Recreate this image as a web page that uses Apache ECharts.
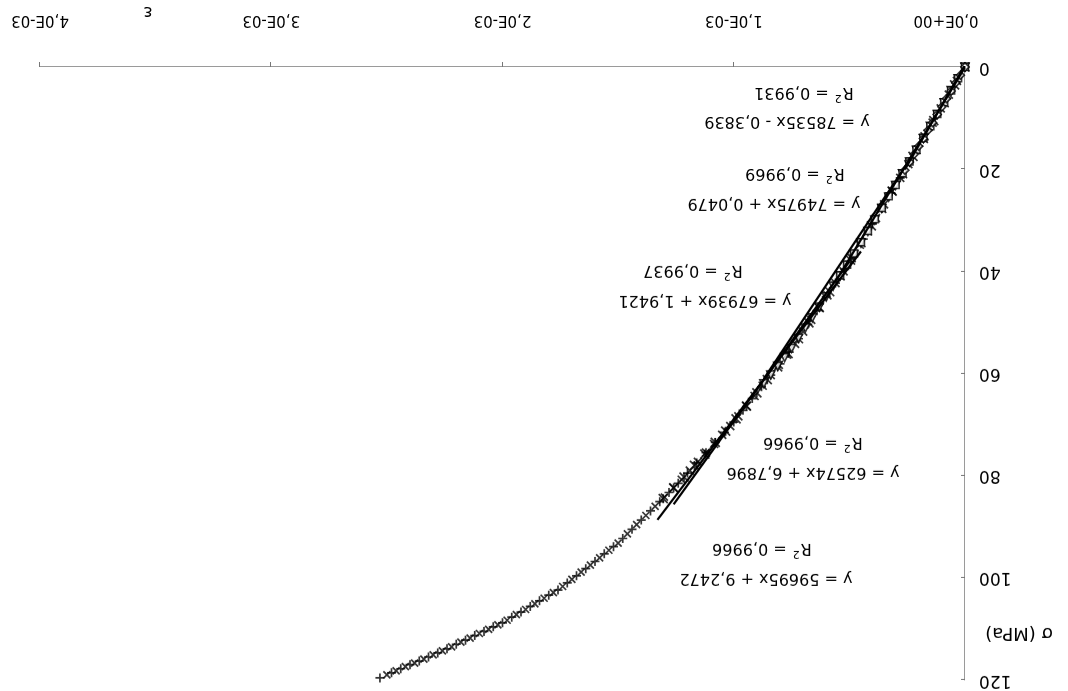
<!DOCTYPE html>
<html>
<head>
<meta charset="utf-8">
<script src="https://cdn.jsdelivr.net/npm/echarts@6/dist/echarts.min.js"></script>
<style>
  html, body { margin: 0; padding: 0; background: #fff; }
  /* the figure is presented turned through half a revolution */
  #chart { width: 1068px; height: 691px; transform: rotate(180deg); transform-origin: 50% 50%; }
</style>
</head>
<body>
<div id="chart"></div>
<script>
// Axis tick labels
const xTickLabels = ['0,0E+00', '1,0E-03', '2,0E-03', '3,0E-03', '4,0E-03'];
const yTickLabels = ['0', '20', '40', '60', '80', '100', '120'];

// Loading stages: strain in microstrain, stress in MPa
const strainS1 = [0, 20, 40, 60, 80, 100, 120, 140, 160, 180, 200, 220, 240, 260];
const stressS1 = [0, 1.6, 3.1, 4.7, 6.2, 7.8, 9.3, 10.9, 12.4, 14.0, 15.5, 17.1, 18.6, 20.2];

const strainS2 = [0, 30, 60, 90, 120, 150, 180, 210, 240, 270, 300, 330, 360, 390, 420, 450, 480, 510, 540];
const stressS2 = [0, 2.2, 4.6, 6.9, 9.2, 11.6, 13.9, 16.2, 18.5, 20.8, 23.1, 25.3, 27.6, 29.8, 32.1, 34.3, 36.5, 38.7, 40.8];

const strainS3 = [0, 30, 60, 90, 120, 150, 180, 210, 240, 270, 300, 330, 360, 390, 420, 450, 480, 510, 540, 570,
                  600, 630, 660, 690, 720, 750, 780, 810, 840, 870];
const stressS3 = [0, 2.3, 4.6, 7.0, 9.3, 11.6, 14.0, 16.3, 18.6, 20.9, 23.2, 25.5, 27.7, 30.0, 32.2, 34.5, 36.7, 38.8, 40.9, 42.9,
                  45.0, 47.0, 49.1, 51.1, 53.1, 55.1, 56.9, 58.6, 60.3, 62.0];

const strainS4 = [0, 35, 70, 105, 140, 175, 210, 245, 280, 315, 350, 385, 420, 455, 490, 525, 560, 595, 630, 665,
                  700, 735, 770, 805, 840, 875, 910, 945, 980, 1015, 1050, 1085, 1120, 1155, 1190, 1225, 1260];
const stressS4 = [0, 2.7, 5.4, 8.1, 10.9, 13.6, 16.3, 19.0, 21.7, 24.3, 26.9, 29.6, 32.2, 34.8, 37.4, 40.0, 42.3, 44.7, 47.1, 49.5,
                  51.8, 54.2, 56.3, 58.3, 60.3, 62.4, 64.4, 66.4, 68.4, 70.3, 72.0, 73.8, 75.5, 77.3, 79.0, 80.8, 82.4];

const strainS5 = [0, 45, 90, 135, 180, 225, 270, 315, 360, 405, 450, 495, 540, 585, 630, 675, 720, 765, 810, 855,
                  900, 945, 990, 1035, 1080, 1125, 1170, 1215, 1260, 1305];
const stressS5 = [0, 3.5, 7.0, 10.5, 14.0, 17.5, 20.9, 24.3, 27.7, 31.1, 34.4, 37.8, 40.9, 44.0, 47.1, 50.1, 53.2, 56.1, 58.7, 61.2,
                  63.8, 66.4, 68.9, 71.3, 73.5, 75.8, 78.0, 80.3, 82.4, 84.5];

const strainS6 = [0, 40, 80, 120, 160, 200, 240, 280, 320, 360, 400, 440, 480, 520, 560, 600, 640, 680, 720, 760,
                  800, 840, 880, 920, 960, 1000, 1040, 1080, 1120, 1160, 1200, 1240, 1280, 1320, 1360, 1400, 1440, 1480, 1520, 1560,
                  1600, 1640, 1680, 1720, 1760, 1800, 1840, 1880, 1920, 1960, 2000, 2040, 2080, 2120, 2160, 2200, 2240, 2280, 2320, 2360,
                  2400, 2440, 2480, 2530];
const stressS6 = [0, 3.1, 6.2, 9.3, 12.4, 15.5, 18.6, 21.7, 24.7, 27.7, 30.7, 33.7, 36.7, 39.6, 42.3, 45.0, 47.7, 50.4, 53.2, 55.8,
                  58.1, 60.3, 62.6, 64.9, 67.2, 69.5, 71.5, 73.5, 75.5, 77.5, 79.5, 81.5, 83.3, 85.1, 86.9, 88.7, 90.5, 92.3, 93.9, 95.3,
                  96.8, 98.2, 99.6, 101.0, 102.4, 103.4, 104.5, 105.6, 106.7, 107.7, 108.8, 109.6, 110.5, 111.3, 112.2, 113.0, 113.9, 114.7, 115.5, 116.3,
                  117.0, 117.8, 118.6, 119.6];

const strainS7 = [1300, 1340, 1380, 1420, 1460, 1500, 1540, 1580, 1620, 1660, 1700, 1740, 1780, 1820, 1860, 1900, 1940, 1980,
                  2020, 2060, 2100, 2140, 2180, 2220, 2260, 2300, 2340, 2380, 2420, 2460, 2500];
const stressS7 = [84.2, 86.0, 87.8, 89.6, 91.4, 93.2, 94.6, 96.1, 97.5, 98.9, 100.3, 101.7, 102.9, 104.0, 105.1, 106.2, 107.2, 108.3,
                  109.2, 110.1, 110.9, 111.8, 112.6, 113.5, 114.3, 115.1, 115.9, 116.7, 117.4, 118.2, 119.0];

// Linear trend lines: y = slope * x + intercept over a strain range (microstrain)
const trendSlopes = [78535, 74975, 67939, 62574, 59695];
const trendIntercepts = [-0.3839, 0.0479, 1.9421, 6.7896, 9.2472];
const trendR2 = ['0,9931', '0,9969', '0,9937', '0,9966', '0,9966'];
const trendFrom = [0, 0, 250, 500, 450];
const trendTo = [260, 540, 870, 1260, 1330];

const FONT = 'DejaVu Sans';

function pairs(strain, stress) {
  return strain.map((e, i) => [e * 1e-6, stress[i]]);
}
function commaNum(v) {
  return String(v).replace('.', ',');
}
function equationText(i) {
  const b = trendIntercepts[i];
  const sign = b < 0 ? ' - ' : ' + ';
  return 'y = ' + trendSlopes[i] + 'x' + sign + commaNum(Math.abs(b));
}

const plusPath = 'path://M0,5L10,5M5,0L5,10';
const crossPath = 'path://M0,0L10,10M0,10L10,0';
const starPath = 'path://M0,0L10,10M0,10L10,0M5,0L5,10';

function scatter(data, symbol, size, hollowFill) {
  return {
    type: 'scatter',
    data: data,
    symbol: symbol,
    symbolSize: size,
    itemStyle: hollowFill
      ? { color: '#fff', borderColor: '#000', borderWidth: 1.6 }
      : { color: 'none', borderColor: '#000', borderWidth: 1.7 },
    z: 2
  };
}

const series = [
  scatter(pairs(strainS6, stressS6), plusPath, 9, false),
  scatter(pairs(strainS7, stressS7), crossPath, 7, false),
  scatter(pairs(strainS5, stressS5), starPath, 9, false),
  scatter(pairs(strainS4, stressS4), crossPath, 8, false),
  scatter(pairs(strainS3, stressS3), 'triangle', 8, true),
  scatter(pairs(strainS2, stressS2), 'rect', 7, true),
  scatter(pairs(strainS1, stressS1), 'diamond', 8, true)
];

trendSlopes.forEach((m, i) => {
  const x0 = trendFrom[i] * 1e-6, x1 = trendTo[i] * 1e-6;
  series.push({
    type: 'line',
    data: [[x0, m * x0 + trendIntercepts[i]], [x1, m * x1 + trendIntercepts[i]]],
    symbol: 'none',
    lineStyle: { color: '#000', width: 2.2 },
    z: 5,
    silent: true
  });
});

// Trend-line equation labels (centre positions of the two text rows)
const eqPos = [[281, 570], [294, 488], [363, 391], [255, 219], [302, 113]];
const r2Pos = [[264, 597], [273, 516], [375, 419], [255, 247], [306, 141]];

const labelRich = {
  n: { fontFamily: FONT, fontSize: 16, color: '#000', lineHeight: 20, verticalAlign: 'bottom' },
  s: { fontFamily: FONT, fontSize: 11, color: '#000', lineHeight: 20, verticalAlign: 'top', padding: [1, 1, 0, 1] }
};

const graphics = [];
trendSlopes.forEach((m, i) => {
  graphics.push({
    type: 'text', x: eqPos[i][0], y: eqPos[i][1],
    style: { text: equationText(i), font: '16px "' + FONT + '"', fill: '#000', align: 'center', verticalAlign: 'middle' }
  });
  graphics.push({
    type: 'text', x: r2Pos[i][0], y: r2Pos[i][1],
    style: {
      text: '{n|R}{s|2}{n| = ' + trendR2[i] + '}',
      rich: labelRich, align: 'center', verticalAlign: 'middle'
    }
  });
});
graphics.push({
  type: 'text', x: 920, y: 680,
  style: { text: '\u03B5', font: '17px "' + FONT + '"', fill: '#000', align: 'center', verticalAlign: 'middle' }
});
graphics.push({
  type: 'text', x: 49, y: 58,
  style: { text: '\u03C3 (MPa)', font: '18px "' + FONT + '"', fill: '#000', align: 'center', verticalAlign: 'middle' }
});

const chart = echarts.init(document.getElementById('chart'));
chart.setOption({
  animation: false,
  backgroundColor: '#fff',
  grid: { left: 103, right: 40, top: 11, bottom: 67 },
  xAxis: {
    type: 'value', min: 0, max: 0.004, interval: 0.001,
    axisLine: { lineStyle: { color: '#9a9a9a', width: 1 } },
    axisTick: { length: 5, lineStyle: { color: '#777' } },
    splitLine: { show: false },
    axisLabel: {
      margin: 40, color: '#000', fontFamily: FONT, fontSize: 15,
      formatter: (v) => {
        const i = Math.round(v / 0.001);
        return i === 0 ? '{first|' + xTickLabels[0] + '}' : xTickLabels[i];
      },
      rich: { first: { padding: [0, 0, 0, 38], fontFamily: FONT, fontSize: 15, color: '#000' } }
    }
  },
  yAxis: {
    type: 'value', min: 0, max: 120, interval: 20,
    axisLine: { show: true, lineStyle: { color: '#9a9a9a', width: 1 } },
    axisTick: { show: true, inside: true, length: 4, lineStyle: { color: '#777' } },
    splitLine: { show: false },
    axisLabel: {
      margin: 14, color: '#000', fontFamily: FONT, fontSize: 17,
      formatter: (v) => yTickLabels[Math.round(v / 20)]
    }
  },
  graphic: graphics,
  series: series
});
</script>
</body>
</html>
